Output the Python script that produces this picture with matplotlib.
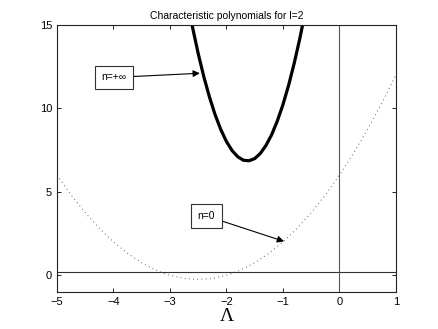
import matplotlib.pyplot as plt

plt.rcParams['font.family'] = ['Liberation Sans', 'DejaVu Sans']

# curva n=+inf
x_inf = [-2.7, -2.6, -2.5, -2.4, -2.3, -2.2, -2.1, -2.0, -1.9, -1.8, -1.7, -1.6,
         -1.5, -1.4, -1.3, -1.2, -1.1, -1.0, -0.9, -0.8, -0.7, -0.6]
y_inf = [16.58, 14.85, 13.28, 11.89, 10.67, 9.61, 8.73, 8.01, 7.47, 7.10, 6.89, 6.86,
         6.99, 7.30, 7.78, 8.42, 9.24, 10.22, 11.38, 12.71, 14.20, 15.87]

# curva n=0
x_zero = [-5, -4.75, -4.5, -4.25, -4, -3.75, -3.5, -3.25, -3, -2.75, -2.5, -2.25, -2,
          -1.75, -1.5, -1.25, -1, -0.75, -0.5, -0.25, 0, 0.25, 0.5, 0.75, 1]
y_zero = [6, 4.81, 3.75, 2.81, 2, 1.31, 0.75, 0.31, 0, -0.19, -0.25, -0.19, 0,
          0.31, 0.75, 1.31, 2, 2.81, 3.75, 4.81, 6, 7.31, 8.75, 10.31, 12]

x_ticks = [-5, -4, -3, -2, -1, 0, 1]
y_ticks = [0, 5, 10, 15]
h_line = 0.2
v_line = 0

fig = plt.figure(figsize=(4.38, 3.29), dpi=100)
ax = fig.add_axes([0.13, 0.1125, 0.774, 0.812])

ax.plot(x_zero, y_zero, linestyle=(0, (0.8, 3)), color='#666666', linewidth=0.8)
ax.plot(x_inf, y_inf, color='k', linewidth=2.3)
ax.axhline(h_line, color='#333333', linewidth=0.8)
ax.axvline(v_line, color='#555555', linewidth=0.8)

box = dict(boxstyle='square,pad=0.65', fc='white', ec='#333333', lw=0.8)
arrow = dict(arrowstyle='-|>', color='k', lw=0.8, mutation_scale=10, shrinkA=0, shrinkB=0)
ax.annotate('n=+∞', xy=(-2.47, 12.1), xytext=(-3.99, 11.85), fontsize=7.5,
            ha='center', va='center', bbox=box, arrowprops=arrow)
ax.annotate('n=0', xy=(-0.98, 2.03), xytext=(-2.36, 3.56), fontsize=7.5,
            ha='center', va='center', bbox=box, arrowprops=arrow)

ax.set_xlim(-5, 1)
ax.set_ylim(-1, 15)
ax.set_xticks(x_ticks)
ax.set_yticks(y_ticks)
ax.set_xticklabels(['\u22125', '\u22124', '\u22123', '\u22122', '\u22121', '0', '1'])
ax.tick_params(direction='in', top=True, right=True, labelsize=8, length=3, width=0.6)
for s in ax.spines.values():
    s.set_linewidth(0.8)
    s.set_color('#222222')

ax.set_title('Characteristic polynomials for l=2', fontsize=7.5, pad=4)
ax.set_xlabel('Λ', fontsize=14, family=['Liberation Serif', 'DejaVu Serif'], labelpad=1)

fig.savefig('out.png', dpi=100)
